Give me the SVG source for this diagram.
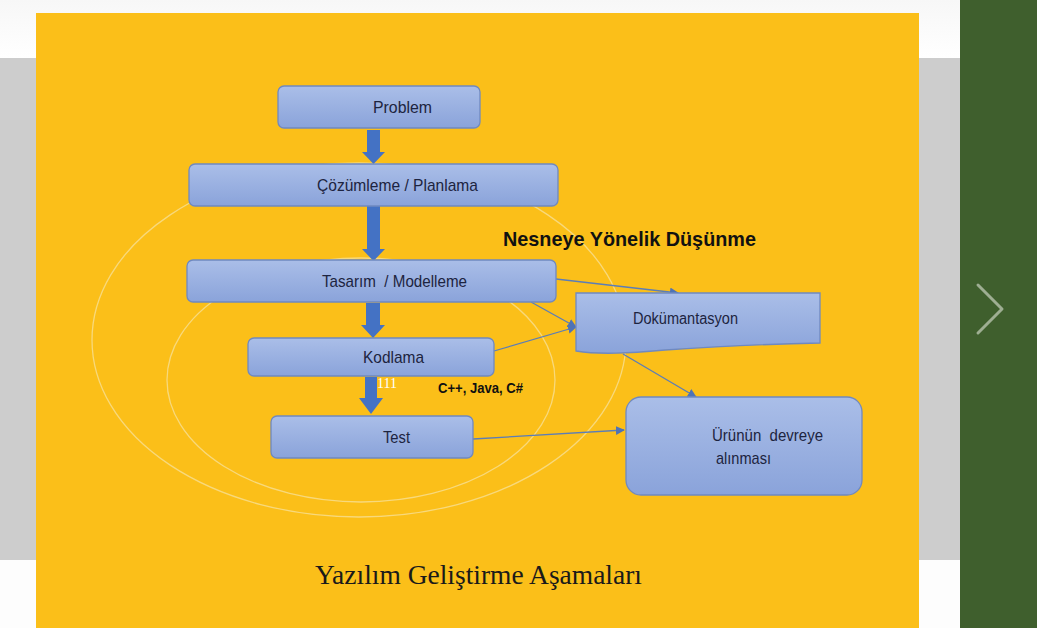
<svg xmlns="http://www.w3.org/2000/svg" width="1037" height="628" viewBox="0 0 1037 628">
<style>
.box{fill:url(#bg);stroke:#6F89C0;stroke-width:1.3}
.t{font-family:"Liberation Sans",Arial,sans-serif;fill:#1D2440;font-size:17px}
.blk{fill:#4472C4}
.con{stroke:#5B7DB8;stroke-width:1.3;fill:none;marker-end:url(#ah)}
.ell{fill:none;stroke:#F6E7B0;stroke-opacity:0.65;stroke-width:1.3}
</style>
<defs>
<linearGradient id="bg" x1="0" y1="0" x2="0" y2="1">
<stop offset="0" stop-color="#AABEE8"/>
<stop offset="1" stop-color="#8AA3DA"/>
</linearGradient>
<linearGradient id="top" x1="0" y1="0" x2="0" y2="1">
<stop offset="0" stop-color="#F7F7F7"/>
<stop offset="1" stop-color="#FFFFFF"/>
</linearGradient>
<marker id="ah" viewBox="0 0 10 10" refX="9" refY="5" markerWidth="9" markerHeight="9" markerUnits="userSpaceOnUse" orient="auto">
<path d="M0,0 L10,5 L0,10 Z" fill="#4F73B5"/>
</marker>
</defs>
<rect x="0" y="0" width="1037" height="628" fill="#FDFDFD"/>
<rect x="0" y="0" width="1037" height="58" fill="url(#top)"/>
<rect x="0" y="58" width="960" height="502" fill="#CDCDCD"/>
<rect x="36" y="13" width="883" height="615" fill="#FBBF19"/>
<rect x="960" y="0" width="77" height="628" fill="#3F5F2D"/>
<polyline points="978,285 1002,309 978,333" fill="none" stroke="#9EAE92" stroke-width="3" stroke-linecap="round" stroke-linejoin="round"/>

<ellipse class="ell" cx="359" cy="340" rx="267" ry="177"/>
<ellipse class="ell" cx="361" cy="380" rx="194" ry="122"/>

<g id="connectors">
<line class="con" x1="556" y1="279" x2="678" y2="293"/>
<line class="con" x1="531" y1="302" x2="576" y2="327"/>
<line class="con" x1="494" y1="351" x2="576" y2="327"/>
<line class="con" x1="623" y1="354" x2="696" y2="397"/>
<line class="con" x1="473" y1="439" x2="624" y2="430"/>
<polygon class="blk" points="367,130 380,130 380,152 385,152 373.5,164 362,152 367,152"/>
<polygon class="blk" points="367,206 380,206 380,249 385,249 373.5,261 362,249 367,249"/>
<polygon class="blk" points="366,303 380,303 380,325 385,325 373,338 361,325 366,325"/>
<polygon class="blk" points="365,377 377,377 377,398 383,398 371,414 359,398 365,398"/>
</g>

<g id="problem">
<rect class="box" x="278" y="86" width="202" height="42" rx="6"/>
<text class="t" x="373" y="113" textLength="59" lengthAdjust="spacingAndGlyphs">Problem</text>
</g>
<g id="cozumleme">
<rect class="box" x="189" y="164" width="369" height="42" rx="6"/>
<text class="t" x="317" y="191" textLength="161" lengthAdjust="spacingAndGlyphs">Çözümleme / Planlama</text>
</g>
<g id="tasarim">
<rect class="box" x="187" y="260" width="369" height="42" rx="6"/>
<text class="t" x="322" y="287" textLength="145" lengthAdjust="spacingAndGlyphs" xml:space="preserve">Tasarım  / Modelleme</text>
</g>
<g id="kodlama">
<rect class="box" x="248" y="338" width="246" height="38" rx="6"/>
<text class="t" x="363" y="363" textLength="61" lengthAdjust="spacingAndGlyphs">Kodlama</text>
</g>
<g id="test">
<rect class="box" x="271" y="416" width="202" height="42" rx="6"/>
<text class="t" x="383" y="443" textLength="27" lengthAdjust="spacingAndGlyphs">Test</text>
</g>
<g id="dokumantasyon">
<path class="box" d="M576,293 H820 V343 C770,344 710,347 665,350 C630,353 600,355 576,351 Z"/>
<text class="t" x="633" y="324" style="font-size:16px" textLength="105" lengthAdjust="spacingAndGlyphs">Dokümantasyon</text>
</g>
<g id="urunun">
<rect class="box" x="626" y="397" width="236" height="98" rx="15"/>
<text class="t" x="712" y="441" textLength="111" lengthAdjust="spacingAndGlyphs" xml:space="preserve">Ürünün  devreye</text>
<text class="t" x="716" y="464" textLength="55" lengthAdjust="spacingAndGlyphs">alınması</text>
</g>

<text x="503" y="246" font-family="'Liberation Sans',Arial,sans-serif" font-weight="bold" font-size="21" fill="#111" textLength="253" lengthAdjust="spacingAndGlyphs">Nesneye Yönelik Düşünme</text>
<text x="438" y="393" font-family="'Liberation Sans',Arial,sans-serif" font-weight="bold" font-size="14.5" fill="#111" textLength="85" lengthAdjust="spacingAndGlyphs">C++, Java, C#</text>
<text x="377" y="388" font-family="'Liberation Serif','Times New Roman',serif" font-size="14" fill="#FFFFFF">111</text>
<text x="315" y="584" font-family="'Liberation Serif','Times New Roman',serif" font-size="28" fill="#1A1A1A" textLength="327" lengthAdjust="spacingAndGlyphs">Yazılım Geliştirme Aşamaları</text>
</svg>
